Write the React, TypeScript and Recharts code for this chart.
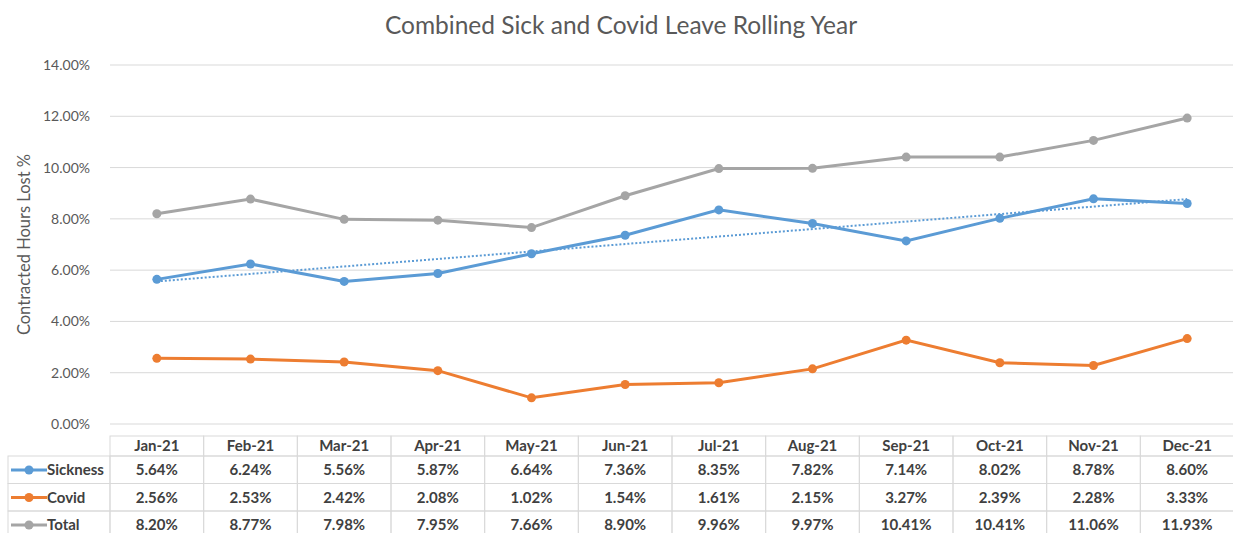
import { LineChart, Line, XAxis, YAxis, CartesianGrid } from "recharts";

const months = ["Jan-21", "Feb-21", "Mar-21", "Apr-21", "May-21", "Jun-21", "Jul-21", "Aug-21", "Sep-21", "Oct-21", "Nov-21", "Dec-21"];
const sickness = [5.64, 6.24, 5.56, 5.87, 6.64, 7.36, 8.35, 7.82, 7.14, 8.02, 8.78, 8.6];
const covid = [2.56, 2.53, 2.42, 2.08, 1.02, 1.54, 1.61, 2.15, 3.27, 2.39, 2.28, 3.33];
const total = [8.2, 8.77, 7.98, 7.95, 7.66, 8.9, 9.96, 9.97, 10.41, 10.41, 11.06, 11.93];
// dotted linear trendline on Sickness, ends
const trendEnds = [5.56, 8.77];
const yTicks = [0, 2, 4, 6, 8, 10, 12, 14];

const SERIES = [
  { key: "sickness", name: "Sickness", color: "#5B9BD5", values: sickness },
  { key: "covid", name: "Covid", color: "#ED7D31", values: covid },
  { key: "total", name: "Total", color: "#A5A5A5", values: total },
];

const data = months.map((m, i) => ({
  month: m,
  sickness: sickness[i],
  covid: covid[i],
  total: total[i],
  trend: i === 0 ? trendEnds[0] : i === months.length - 1 ? trendEnds[1] : null,
}));

const W = 1233;
const H = 533;
const PLOT_LEFT = 110;
const PLOT_RIGHT = 1234;
const COL_W = (PLOT_RIGHT - PLOT_LEFT) / months.length;
const FONT = "Lato, 'Open Sans', sans-serif";
const GRID = "#D9D9D9";
const TXT = "#404040";

const fmt = (v: number) => `${v.toFixed(2)}%`;

function TableTick(props: any) {
  const { x, y, payload, index } = props;
  const half = COL_W / 2;
  const headTop = y + 12;
  const rowTop = y + 32;
  const rowH = 27.5;
  return (
    <g fontFamily={FONT} fontWeight={700} fontSize={15} fill={TXT}>
      <rect x={x - half} y={headTop} width={COL_W} height={20} fill="none" stroke={GRID} />
      <text x={x} y={headTop + 15} textAnchor="middle">{payload.value}</text>
      {SERIES.map((s, r) => (
        <g key={s.key}>
          <rect x={x - half} y={rowTop + r * rowH} width={COL_W} height={rowH} fill="none" stroke={GRID} />
          <text x={x} y={rowTop + r * rowH + 19} textAnchor="middle">{fmt(s.values[index])}</text>
        </g>
      ))}
      {index === 0 &&
        SERIES.map((s, r) => (
          <g key={"lab" + s.key}>
            <rect x={8} y={rowTop + r * rowH} width={x - half - 8} height={rowH} fill="none" stroke={GRID} />
            <line x1={11} x2={47} y1={rowTop + r * rowH + 14} y2={rowTop + r * rowH + 14} stroke={s.color} strokeWidth={3} />
            <circle cx={29} cy={rowTop + r * rowH + 14} r={4.5} fill={s.color} />
            <text x={47} y={rowTop + r * rowH + 19} textAnchor="start">{s.name}</text>
          </g>
        ))}
    </g>
  );
}

export default function App() {
  return (
    <div style={{ position: "absolute", left: 0, top: 0, width: W, height: H, background: "#fff" }}>
      <LineChart width={W} height={H} data={data} margin={{ top: 65, right: W - PLOT_RIGHT, bottom: 0, left: 0 }}>
        <text x={621} y={34} textAnchor="middle" fontFamily={FONT} fontSize={24.5} fill="#595959">
          Combined Sick and Covid Leave Rolling Year
        </text>
        <CartesianGrid vertical={false} stroke={GRID} strokeWidth={1} />
        <XAxis
          dataKey="month"
          axisLine={false}
          tickLine={false}
          tickSize={0}
          tickMargin={0}
          interval={0}
          height={109}
          padding={{ left: COL_W / 2, right: COL_W / 2 }}
          tick={<TableTick />}
        />
        <YAxis
          domain={[0, 14]}
          ticks={yTicks}
          width={PLOT_LEFT}
          axisLine={false}
          tickLine={false}
          tickMargin={14}
          tickFormatter={fmt}
          tick={{ fontFamily: FONT, fontSize: 14, fill: "#595959" }}
          label={{
            value: "Contracted Hours Lost %",
            angle: -90,
            position: "insideLeft",
            offset: 24,
            style: { fontFamily: FONT, fontSize: 16.5, fill: "#595959", textAnchor: "middle" },
          }}
        />
        <Line dataKey="total" stroke="#A5A5A5" strokeWidth={3} dot={{ r: 4.5, fill: "#A5A5A5", strokeWidth: 0 }} isAnimationActive={false} />
        <Line dataKey="covid" stroke="#ED7D31" strokeWidth={3} dot={{ r: 4.5, fill: "#ED7D31", strokeWidth: 0 }} isAnimationActive={false} />
        <Line dataKey="trend" stroke="#5B9BD5" strokeWidth={2} strokeDasharray="2 2" dot={false} connectNulls isAnimationActive={false} />
        <Line dataKey="sickness" stroke="#5B9BD5" strokeWidth={3} dot={{ r: 4.5, fill: "#5B9BD5", strokeWidth: 0 }} isAnimationActive={false} />
      </LineChart>
    </div>
  );
}
